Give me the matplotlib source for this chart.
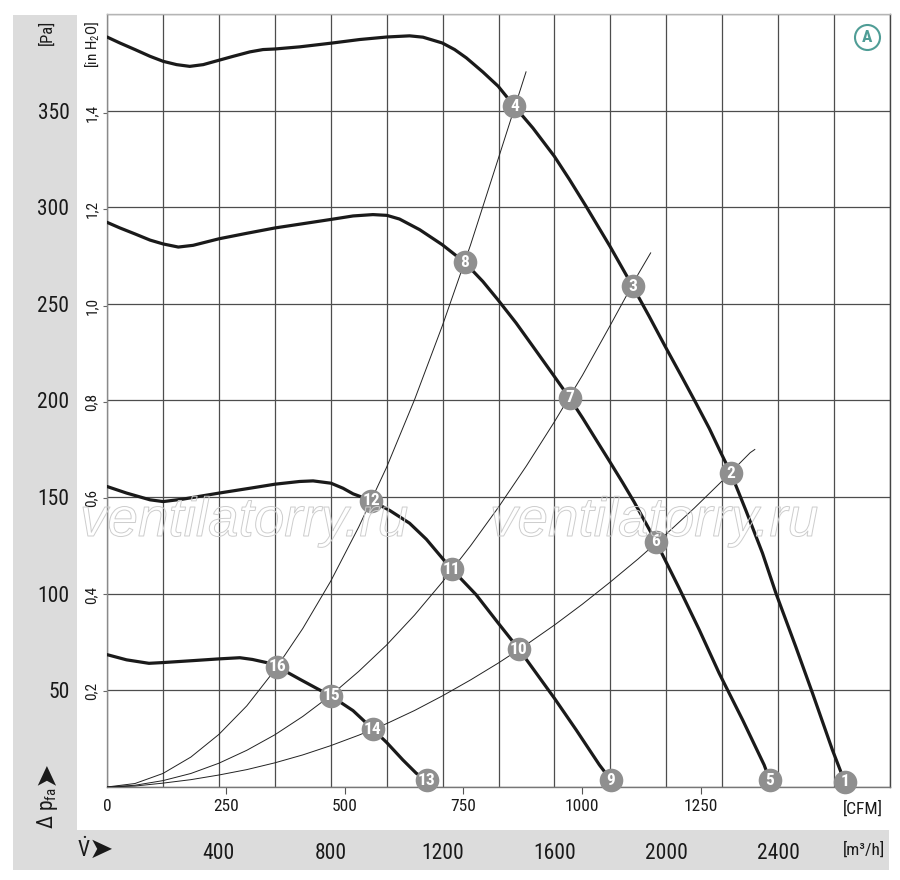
import matplotlib
matplotlib.use('Agg')
import matplotlib.pyplot as plt
from matplotlib import font_manager as fm
from matplotlib.patches import Rectangle
from matplotlib.ticker import FuncFormatter
import matplotlib.patheffects as pe

# ---------------- data ----------------
M3H_PER_CFM = 1.699
PA_PER_INH2O = 249.089

curve1_flow = [0, 46, 100, 154, 201, 249, 296, 344, 401, 451, 511, 558, 601, 689, 801, 904, 1001, 1082,
               1130, 1199, 1243, 1285, 1344, 1399, 1457, 1523, 1600, 1654, 1713, 1799, 1880, 1939, 1996,
               2058, 2106, 2154, 2195, 2231, 2285, 2344, 2392, 2463, 2523, 2594, 2638]
curve1_pa = [388.1, 385.0, 381.6, 378.1, 375.5, 373.8, 372.9, 373.8, 376.1, 378.1, 380.4, 381.6, 381.9,
             383.0, 384.9, 386.8, 388.1, 388.7, 388.0, 385.0, 381.6, 377.3, 370.0, 362.6, 352.2, 341.0,
             326.3, 314.3, 300.5, 279.7, 259.0, 243.5, 228.0, 211.6, 198.7, 185.5, 173.0, 162.4, 143.0,
             121.0, 100.3, 72.6, 48.5, 19.2, 2.7]

curve2_flow = [0, 46, 100, 154, 201, 255, 308, 401, 499, 601, 701, 801, 880, 951, 1001, 1046, 1118, 1199,
               1279, 1344, 1398, 1463, 1523, 1600, 1654, 1701, 1749, 1796, 1844, 1885, 1927, 1963, 2046,
               2118, 2189, 2273, 2350, 2370]
curve2_pa = [292.2, 289.3, 286.2, 283.0, 281.0, 279.4, 280.3, 283.7, 286.5, 289.3, 291.5, 293.7, 295.5,
             296.2, 295.8, 293.9, 288.4, 280.6, 271.5, 261.6, 252.1, 240.1, 228.0, 212.4, 201.3, 190.9,
             179.7, 168.8, 157.5, 147.5, 136.5, 127.0, 102.9, 81.3, 58.9, 34.7, 11.4, 3.6]

curve3_flow = [0, 70, 154, 201, 273, 401, 511, 601, 689, 737, 801, 844, 880, 945, 1011, 1082, 1142, 1199,
               1233, 1320, 1398, 1473, 1535, 1600, 1678, 1761, 1802]
curve3_pa = [155.5, 152.1, 148.6, 147.7, 149.0, 152.1, 154.6, 156.7, 158.1, 158.4, 157.2, 154.6, 151.7,
             148.2, 143.1, 136.5, 128.2, 118.4, 112.7, 99.5, 85.0, 71.3, 58.9, 45.9, 29.5, 11.4, 3.6]

curve4_flow = [0, 70, 150, 201, 308, 401, 475, 520, 570, 608, 689, 749, 801, 880, 951, 1001, 1058, 1106, 1144]
curve4_pa = [68.5, 65.8, 64.0, 64.4, 65.4, 66.3, 66.9, 66.0, 64.4, 62.3, 55.8, 51.1, 47.1, 39.5, 29.9,
             22.9, 14.0, 7.1, 3.6]

sysA_flow = [0, 100, 200, 300, 400, 500, 600, 700, 800, 900, 1000, 1100, 1200, 1300, 1400, 1499]
sysA_pa = [0, 1.8, 7.0, 15.5, 27.2, 42.0, 60.5, 82.0, 106.5, 134.5, 165.5, 200.5, 239.0, 280.5, 325.5, 370.3]

sysB_flow = [0, 100, 200, 300, 400, 500, 600, 700, 800, 900, 1000, 1100, 1200, 1300, 1400, 1500, 1600,
             1700, 1800, 1900, 1945]
sysB_pa = [0, 0.9, 3.3, 7.0, 12.3, 19.0, 27.0, 36.5, 47.4, 59.8, 73.5, 89.0, 106.2, 124.8, 144.8, 166.2,
           189.0, 213.0, 239.0, 265.5, 276.6]

sysC_flow = [0, 100, 200, 300, 400, 500, 600, 700, 800, 900, 1000, 1100, 1200, 1300, 1400, 1500, 1600,
             1700, 1800, 1900, 2000, 2100, 2200, 2300, 2318]
sysC_pa = [0, 0.5, 2.0, 3.8, 6.2, 9.0, 12.5, 16.6, 21.4, 26.8, 32.8, 39.6, 47.2, 55.4, 64.2, 73.7, 83.8,
           94.6, 106.1, 118.1, 130.9, 144.3, 158.4, 173.0, 174.8]

point_labels = ['1', '2', '3', '4', '5', '6', '7', '8', '9', '10', '11', '12', '13', '14', '15', '16']
point_flow = [2638, 2231, 1880, 1457, 2370, 1963, 1654, 1279, 1802, 1473, 1233, 945, 1144, 951, 801, 608]
point_pa = [2.7, 162.4, 259.0, 352.2, 3.6, 127.0, 201.3, 271.5, 3.6, 71.3, 112.7, 148.2, 3.6, 29.9, 47.1, 62.3]

m3h_ticks = [0, 200, 400, 600, 800, 1000, 1200, 1400, 1600, 1800, 2000, 2200, 2400, 2600, 2800]
m3h_labelled = [400, 800, 1200, 1600, 2000, 2400]
pa_ticks = [0, 50, 100, 150, 200, 250, 300, 350, 400]
pa_labelled = [50, 100, 150, 200, 250, 300, 350]
inh2o_ticks = [0.2, 0.4, 0.6, 0.8, 1.0, 1.2, 1.4]
inh2o_labels = ['0,2', '0,4', '0,6', '0,8', '1,0', '1,2', '1,4']
cfm_ticks = [0, 250, 500, 750, 1000, 1250]
cfm_labels = ['0', '250', '500', '750', '1000', '1250']

# ---------------- fonts ----------------
names = {f.name for f in fm.fontManager.ttflist}
COND = None
for cand in ['Liberation Sans Narrow', 'Roboto Condensed', 'Open Sans Condensed',
             'Noto Sans Condensed', 'DejaVu Sans Condensed']:
    if cand in names:
        COND = cand
        break
if COND is None:
    COND = 'Liberation Sans'
    S = 0.85
else:
    S = 1.0

plt.rcParams['font.family'] = [COND, 'DejaVu Sans']
plt.rcParams['mathtext.fontset'] = 'custom'
plt.rcParams['mathtext.rm'] = COND
plt.rcParams['mathtext.it'] = COND + ':italic'
plt.rcParams['mathtext.bf'] = COND + ':bold'

TXT = '#1a1a1a'
GRID = '#4d4d4d'

fig = plt.figure(figsize=(9, 8.8), dpi=100)
W, H = 900.0, 880.0

# grey bands (behind the axes)
fig.patches.append(Rectangle((13 / W, 1 - 830 / H), 64 / W, (830 - 15) / H,
                             transform=fig.transFigure, facecolor='#dcdcdc', edgecolor='none', zorder=-1))
fig.patches.append(Rectangle((13 / W, 1 - 870 / H), 876 / W, 40 / H,
                             transform=fig.transFigure, facecolor='#dcdcdc', edgecolor='none', zorder=-1))

ax = fig.add_axes([107 / W, 1 - 787 / H, 783 / W, 773 / H])
ax.set_xlim(0, 2800)
ax.set_ylim(0, 400)
ax.patch.set_alpha(0)

ax.set_xticks(m3h_ticks)
ax.set_yticks(pa_ticks)
ax.xaxis.set_major_formatter(FuncFormatter(lambda v, p: str(int(v)) if int(round(v)) in m3h_labelled else ''))
ax.yaxis.set_major_formatter(FuncFormatter(lambda v, p: str(int(v)) if int(round(v)) in pa_labelled else ''))
ax.tick_params(axis='x', length=0, pad=40, labelsize=15.5 * S, labelcolor=TXT)
ax.tick_params(axis='y', length=0, pad=27, labelsize=15.5 * S, labelcolor=TXT)
ax.grid(True, color=GRID, linewidth=0.9)
ax.set_axisbelow(True)
for side, col in [('top', '#b5b5b5'), ('right', '#444444'), ('left', '#8a8a8a'), ('bottom', '#777777')]:
    ax.spines[side].set_color(col)
    ax.spines[side].set_linewidth(1.0)

# inH2O secondary axis
secy = ax.secondary_yaxis('left', functions=(lambda p: p / PA_PER_INH2O, lambda i: i * PA_PER_INH2O))
secy.set_yticks(inh2o_ticks)
secy.set_yticklabels(inh2o_labels)
secy.tick_params(axis='y', length=3, width=0.8, color='#666666', pad=3, labelsize=11 * S,
                 labelrotation=90, labelcolor=TXT)
for lab in secy.get_yticklabels():
    lab.set_va('center')
secy.spines['left'].set_visible(False)

# CFM secondary axis
secx = ax.secondary_xaxis('bottom', functions=(lambda m: m / M3H_PER_CFM, lambda c: c * M3H_PER_CFM))
secx.set_xticks(cfm_ticks)
secx.set_xticklabels(cfm_labels)
secx.tick_params(axis='x', length=5, width=0.8, color='#555555', pad=3.5, labelsize=12.5 * S, labelcolor=TXT)
secx.spines['bottom'].set_visible(False)
secx.xaxis.get_major_ticks()[0].tick1line.set_visible(False)

# system resistance curves
for fx, fy in [(sysA_flow, sysA_pa), (sysB_flow, sysB_pa), (sysC_flow, sysC_pa)]:
    ax.plot(fx, fy, color='#222222', linewidth=0.7, zorder=3, solid_capstyle='butt')

# fan curves
for fx, fy in [(curve1_flow, curve1_pa), (curve2_flow, curve2_pa),
               (curve3_flow, curve3_pa), (curve4_flow, curve4_pa)]:
    ax.plot(fx, fy, color='#1a1a1a', linewidth=2.3, zorder=4, solid_joinstyle='round',
            solid_capstyle='round')

# operating points
ax.plot(point_flow, point_pa, linestyle='none', marker='o', markersize=17,
        markerfacecolor='#8f8f8f', markeredgecolor='none', zorder=5, clip_on=False)
for lab, fx, fy in zip(point_labels, point_flow, point_pa):
    ax.text(fx, fy, lab, ha='center', va='center', color='white', fontsize=12.5 * S,
            fontweight='bold', zorder=6, clip_on=False)

# circled A
ax.plot([0.970], [0.970], transform=ax.transAxes, marker='o', markersize=18,
        markerfacecolor='white', markeredgecolor='#4f9d96', markeredgewidth=1.5, zorder=6, clip_on=False)
ax.text(0.970, 0.970, 'A', transform=ax.transAxes, ha='center', va='center',
        color='#4f9d96', fontsize=12.5 * S, fontweight='bold', zorder=7)

# unit / axis texts
fig.text(47 / W, 1 - 32 / H, '[Pa]', rotation=90, ha='center', va='center', fontsize=12 * S, color=TXT)
fig.text(92 / W, 1 - 44 / H, '[in H$_2$O]', rotation=90, ha='center', va='center', fontsize=11 * S, color=TXT)
fig.text(47 / W, 1 - 829 / H, 'Δ p$_{\\mathrm{fa}}$', rotation=90, ha='center', va='bottom',
         fontsize=15.5 * S, color=TXT)
fig.text(46 / W, 1 - 773 / H, '➤', rotation=90, ha='center', va='center',
         fontsize=21, color=TXT, family='DejaVu Sans')
fig.text(77 / W, 1 - 850 / H, '$\\dot{\\mathrm{V}}$', ha='left', va='center', fontsize=15.5 * S, color=TXT)
fig.text(101 / W, 1 - 850 / H, '➤', ha='center', va='center', fontsize=21, color=TXT, family='DejaVu Sans')
fig.text(843 / W, 1 - 809 / H, '[CFM]', ha='left', va='center', fontsize=12.5 * S, color=TXT)
fig.text(843 / W, 1 - 850 / H, '[m³/h]', ha='left', va='center', fontsize=12.5 * S, color=TXT)

# watermark
for xw in (80, 490):
    fig.text(xw / W, 1 - 536 / H, 'ventilatorry.ru', ha='left', va='baseline', fontsize=39.5,
             family=['Liberation Sans', 'DejaVu Sans'], fontstretch='normal', style='italic',
             color='none', path_effects=[pe.Stroke(linewidth=0.7, foreground='#cdcdcd')], zorder=8)

fig.savefig('out.png', dpi=100)
